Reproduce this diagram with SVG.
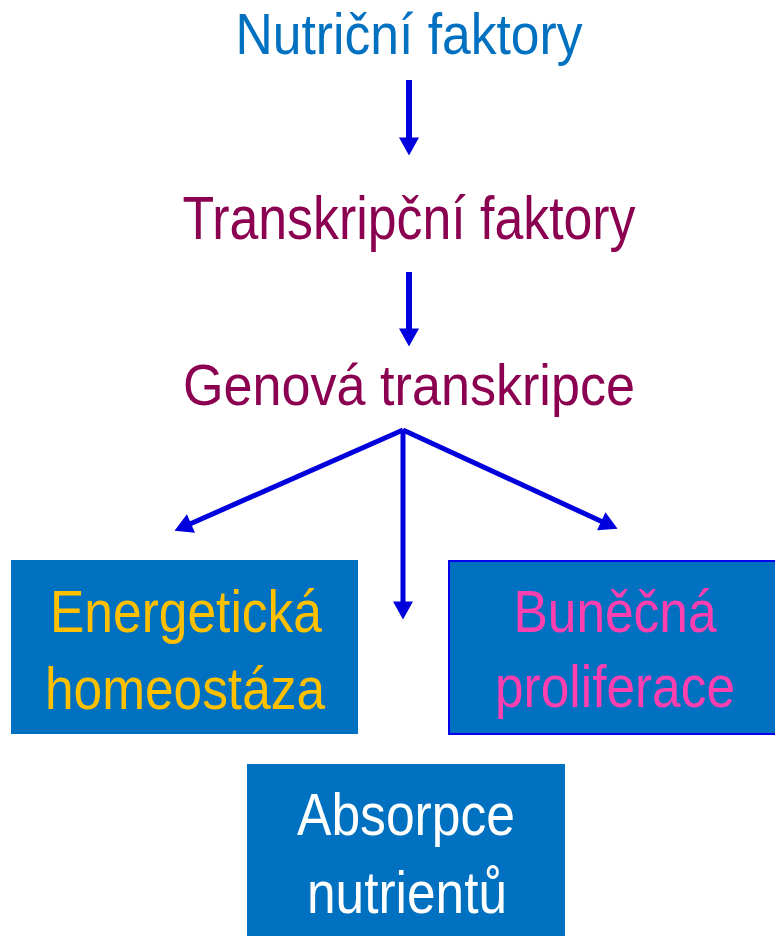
<svg xmlns="http://www.w3.org/2000/svg" width="775" height="936" viewBox="0 0 775 936">
<style>
text{font-family:"Liberation Sans",Arial,sans-serif;text-anchor:middle}
.box{fill:#0070C0}
.arr{stroke:#0000DD;fill:none}
</style>
<defs>
<marker id="ah" markerUnits="userSpaceOnUse" markerWidth="18" markerHeight="20" viewBox="0 0 18 20" refX="0.5" refY="10" orient="auto" overflow="visible">
<path d="M0,0 L18,10 L0,20 z" fill="#0000DD"/>
</marker>
</defs>
<g id="n1"><text x="409" y="54" font-size="57" fill="#0070C0" textLength="347" lengthAdjust="spacingAndGlyphs">Nutriční faktory</text></g>
<g id="n2"><text x="409" y="239" font-size="62" fill="#8B0050" textLength="453" lengthAdjust="spacingAndGlyphs">Transkripční faktory</text></g>
<g id="n3"><text x="409" y="405" font-size="58" fill="#8B0050" textLength="452" lengthAdjust="spacingAndGlyphs">Genová transkripce</text></g>
<g id="n4"><rect class="box" x="11" y="560" width="347" height="174"/>
<text x="186" y="632" font-size="60" fill="#FFC000" textLength="272" lengthAdjust="spacingAndGlyphs">Energetická</text>
<text x="185" y="709" font-size="60" fill="#FFC000" textLength="280" lengthAdjust="spacingAndGlyphs">homeostáza</text></g>
<g id="n5"><rect class="box" x="449" y="561" width="330" height="173" stroke="#0000EE" stroke-width="2"/>
<text x="615" y="632" font-size="60" fill="#FF3FB0" textLength="203" lengthAdjust="spacingAndGlyphs">Buněčná</text>
<text x="615" y="707" font-size="60" fill="#FF3FB0" textLength="240" lengthAdjust="spacingAndGlyphs">proliferace</text></g>
<g id="n6"><rect class="box" x="247" y="764" width="318" height="172"/>
<text x="406" y="835" font-size="60" fill="#FFFFFF" textLength="218" lengthAdjust="spacingAndGlyphs">Absorpce</text>
<text x="407" y="913" font-size="60" fill="#FFFFFF" textLength="200" lengthAdjust="spacingAndGlyphs">nutrientů</text></g>
<g id="connectors">
<line class="arr" x1="409" y1="80" x2="409" y2="138" stroke-width="6" marker-end="url(#ah)"/>
<line class="arr" x1="409" y1="272" x2="409" y2="329" stroke-width="6" marker-end="url(#ah)"/>
<line class="arr" x1="403" y1="430" x2="190.5" y2="523.7" stroke-width="5" marker-end="url(#ah)"/>
<line class="arr" x1="403" y1="430" x2="601.7" y2="521.5" stroke-width="5" marker-end="url(#ah)"/>
<line class="arr" x1="403" y1="430" x2="403" y2="602" stroke-width="5" marker-end="url(#ah)"/>
</g>
</svg>
